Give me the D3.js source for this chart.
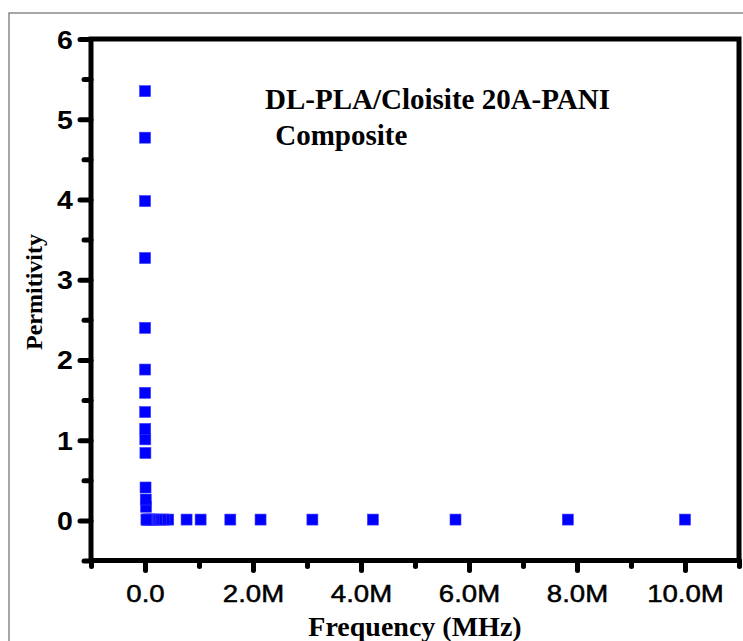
<!DOCTYPE html>
<html>
<head>
<meta charset="utf-8">
<script src="https://cdn.jsdelivr.net/npm/d3@7"></script>
<style>
  html, body { margin: 0; padding: 0; background: #fff; }
  svg { display: block; }
</style>
</head>
<body>
<svg id="chart" width="743" height="641"></svg>
<script>
// ---- data (frequency in Hz, permittivity) ----
const frequencyHz = [10.0e6, 7.83e6, 5.75e6, 4.22e6, 3.1e6, 2.14e6, 1.58e6, 1.03e6, 0.77e6,
  0.43e6, 0.36e6, 0.29e6, 0.22e6, 0.16e6, 0.12e6, 0.09e6, 0.065e6, 0.048e6, 0.035e6, 0.026e6,
  19e3, 14e3, 10e3, 7.5e3, 5.5e3, 4.0e3, 3.0e3, 2.2e3, 1.6e3, 1.2e3, 900, 650, 480, 350];
const permittivity = [0.01, 0.01, 0.01, 0.01, 0.01, 0.01, 0.01, 0.01, 0.01,
  0.01, 0.01, 0.01, 0.01, 0.01, 0.01, 0.01, 0.01, 0.01, 0.01, 0.01,
  0.17, 0.26, 0.41, 0.84, 1.01, 1.14, 1.35, 1.59, 1.88, 2.40, 3.27, 3.98, 4.77, 5.35];
const xMajorTicks = [0, 2e6, 4e6, 6e6, 8e6, 10e6];
const xMinorTicks = [-1e6, 1e6, 3e6, 5e6, 7e6, 9e6, 11e6];
const yMajorTicks = [0, 1, 2, 3, 4, 5, 6];
const yMinorTicks = [-0.5, 0.5, 1.5, 2.5, 3.5, 4.5, 5.5];
const annotationLines = ["DL-PLA/Cloisite 20A-PANI", " Composite"];
const xTitle = "Frequency (MHz)";
const yTitle = "Permitivity";

const svg = d3.select("#chart");

// outer thin frame
svg.append("rect").attr("x", 9).attr("y", 13).attr("width", 760).attr("height", 660)
  .attr("fill", "none").attr("stroke", "#8a8a8a").attr("stroke-width", 1.5);

const x = d3.scaleLinear().domain([-1e6, 11e6]).range([91, 739]);
const y = d3.scaleLinear().domain([-0.5, 6]).range([560.5, 39]);

const fmtX = d => d === 0 ? "0.0" : (d / 1e6).toFixed(1) + "M";
const lw = 5;

// axes (major ticks with labels)
const xAxis = svg.append("g").attr("transform", `translate(0,${y(-0.5)})`)
  .call(d3.axisBottom(x).tickValues(xMajorTicks).tickFormat(fmtX).tickSize(10).tickPadding(13));
const yAxis = svg.append("g").attr("transform", `translate(${x(-1e6)},0)`)
  .call(d3.axisLeft(y).tickValues(yMajorTicks).tickFormat(d3.format("d")).tickSize(11).tickPadding(5));

[xAxis, yAxis].forEach(g => {
  g.select(".domain").remove();
  g.selectAll(".tick line").attr("stroke", "#000").attr("stroke-width", lw).attr("stroke-linecap", "round");
});
xAxis.selectAll(".tick text")
  .attr("fill", "#000").attr("stroke", "#000").attr("stroke-width", 0.5)
  .attr("font-family", "Arial, 'Liberation Sans', sans-serif")
  .attr("font-size", 24).attr("transform", "scale(1.15,1)").attr("dy", "0.78em");
yAxis.selectAll(".tick text")
  .attr("fill", "#000").attr("font-family", "Arial, 'Liberation Sans', sans-serif")
  .attr("font-weight", "bold")
  .attr("font-size", 25).attr("transform", "scale(1.14,1)").attr("dy", "0.36em");

// minor ticks
const xMinor = svg.append("g").attr("transform", `translate(0,${y(-0.5)})`)
  .call(d3.axisBottom(x).tickValues(xMinorTicks).tickFormat("").tickSize(6));
const yMinor = svg.append("g").attr("transform", `translate(${x(-1e6)},0)`)
  .call(d3.axisLeft(y).tickValues(yMinorTicks).tickFormat("").tickSize(7));
[xMinor, yMinor].forEach(g => {
  g.select(".domain").remove();
  g.selectAll(".tick line").attr("stroke", "#000").attr("stroke-width", lw).attr("stroke-linecap", "round");
});

// frame of the plot
svg.append("rect")
  .attr("x", x(-1e6)).attr("y", y(6))
  .attr("width", x(11e6) - x(-1e6)).attr("height", y(-0.5) - y(6))
  .attr("fill", "none").attr("stroke", "#000").attr("stroke-width", lw);

// markers
const pts = frequencyHz.map((f, i) => ({ f, p: permittivity[i] }));
const s = 11;
svg.append("g").selectAll("rect").data(pts).join("rect")
  .attr("x", d => x(d.f) - s / 2).attr("y", d => y(d.p) - s / 2)
  .attr("width", s).attr("height", s)
  .attr("fill", "#0000ff").attr("stroke", "#3a3aff").attr("stroke-width", 0.6);

// annotation
const serif = "'Times New Roman', 'Liberation Serif', serif";
svg.append("text").attr("x", 265).attr("y", 109)
  .attr("font-family", serif).attr("font-weight", "bold").attr("font-size", 29)
  .attr("fill", "#000").text(annotationLines[0]);
svg.append("text").attr("x", 268).attr("y", 145).attr("xml:space", "preserve")
  .attr("font-family", serif).attr("font-weight", "bold").attr("font-size", 29)
  .attr("fill", "#000").text(annotationLines[1]);

// axis titles
svg.append("text").attr("x", 415).attr("y", 636).attr("text-anchor", "middle")
  .attr("font-family", serif).attr("font-weight", "bold").attr("font-size", 28)
  .attr("fill", "#000").text(xTitle);
svg.append("text").attr("transform", "translate(42,292) rotate(-90)").attr("text-anchor", "middle")
  .attr("font-family", serif).attr("font-weight", "bold").attr("font-size", 24)
  .attr("fill", "#000").text(yTitle);
</script>
</body>
</html>
